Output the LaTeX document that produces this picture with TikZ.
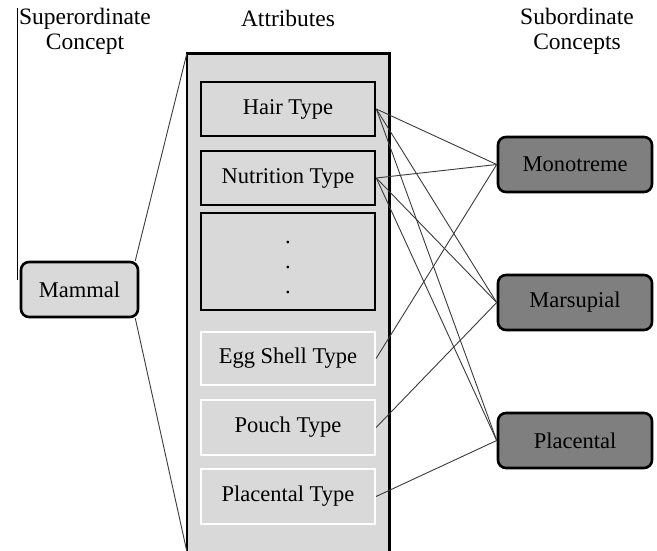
\documentclass[tikz,border=0pt]{standalone}
\usepackage{fontspec}
\setmainfont{Liberation Serif}
\definecolor{lightg}{HTML}{D9D9D9}
\definecolor{darkg}{HTML}{7F7F7F}
\definecolor{linkg}{HTML}{3A3A3A}
\begin{document}
\begin{tikzpicture}[x=1pt,y=-1pt,
  txt/.style={font=\fontsize{22.5}{25}\selectfont, inner sep=0pt},
  ttl/.style={font=\fontsize{23.5}{25}\selectfont, inner sep=0pt, align=center},
  attrbox/.style={txt, draw=black, line width=2.6pt, fill=lightg, minimum width=174pt, minimum height=54pt},
  wattr/.style={txt, draw=white, line width=2.2pt, fill=lightg, minimum width=174pt, minimum height=54pt},
  concept/.style={txt, draw=black, line width=2.6pt, rounded corners=8pt, minimum width=154pt, minimum height=55pt},
  link/.style={draw=linkg, line width=0.9pt}
]
\useasboundingbox (0,0) rectangle (657,551);
% stray vertical line
\coordinate (s1) at (17,8);
\coordinate (s2) at (17,280);
\draw[line width=1pt] (s1) -- (s2);
% titles
\node[ttl] (tsup) at (85,31) {Superordinate\\[0pt]Concept};
\node[ttl] (tattr) at (288,18) {Attributes};
\node[ttl] (tsub) at (577,31) {Subordinate\\[0pt]Concepts};
% big attributes box
\node[fill=lightg, draw=none, minimum width=202pt, minimum height=497pt, inner sep=0pt] (attr) at (288,302.5) {};
\draw[line width=2.6pt] (attr.south west) -- (attr.north west) -- (attr.north east) -- (attr.south east);
% attribute boxes
\node[attrbox] (hair) at (288,109) {Hair Type};
\node[attrbox] (nutr) at (288,178) {Nutrition Type};
\node[attrbox, minimum height=97pt] (dots) at (288,261.5) {};
\node[txt] (d1) at (288,242) {.};
\node[txt] (d2) at (288,267) {.};
\node[txt] (d3) at (288,292) {.};
\node[wattr, minimum height=53pt] (egg) at (288,358.5) {Egg Shell Type};
\node[wattr, minimum height=55pt] (pouch) at (288,427.5) {Pouch Type};
\node[wattr, minimum height=55pt] (plat) at (288,496.5) {Placental Type};
% mammal
\node[concept, fill=lightg, minimum width=117pt] (mammal) at (79.5,289.5) {Mammal};
\draw[link] ([xshift=-4pt]mammal.north east) -- (attr.north west);
\draw[link] ([xshift=-4pt]mammal.south east) -- (attr.south west);
% subordinate
\node[concept, fill=darkg] (mono) at (575,164.5) {Monotreme};
\node[concept, fill=darkg] (mars) at (575,302.5) {Marsupial};
\node[concept, fill=darkg] (plac) at (575,440.5) {Placental};
% links
\foreach \a in {hair,nutr}{
  \foreach \b in {mono,mars,plac}{
    \draw[link] (\a.east) -- (\b.west);
  }
}
\draw[link] (egg.east) -- (mono.west);
\draw[link] (pouch.east) -- (mars.west);
\draw[link] (plat.east) -- (plac.west);
\end{tikzpicture}
\end{document}
